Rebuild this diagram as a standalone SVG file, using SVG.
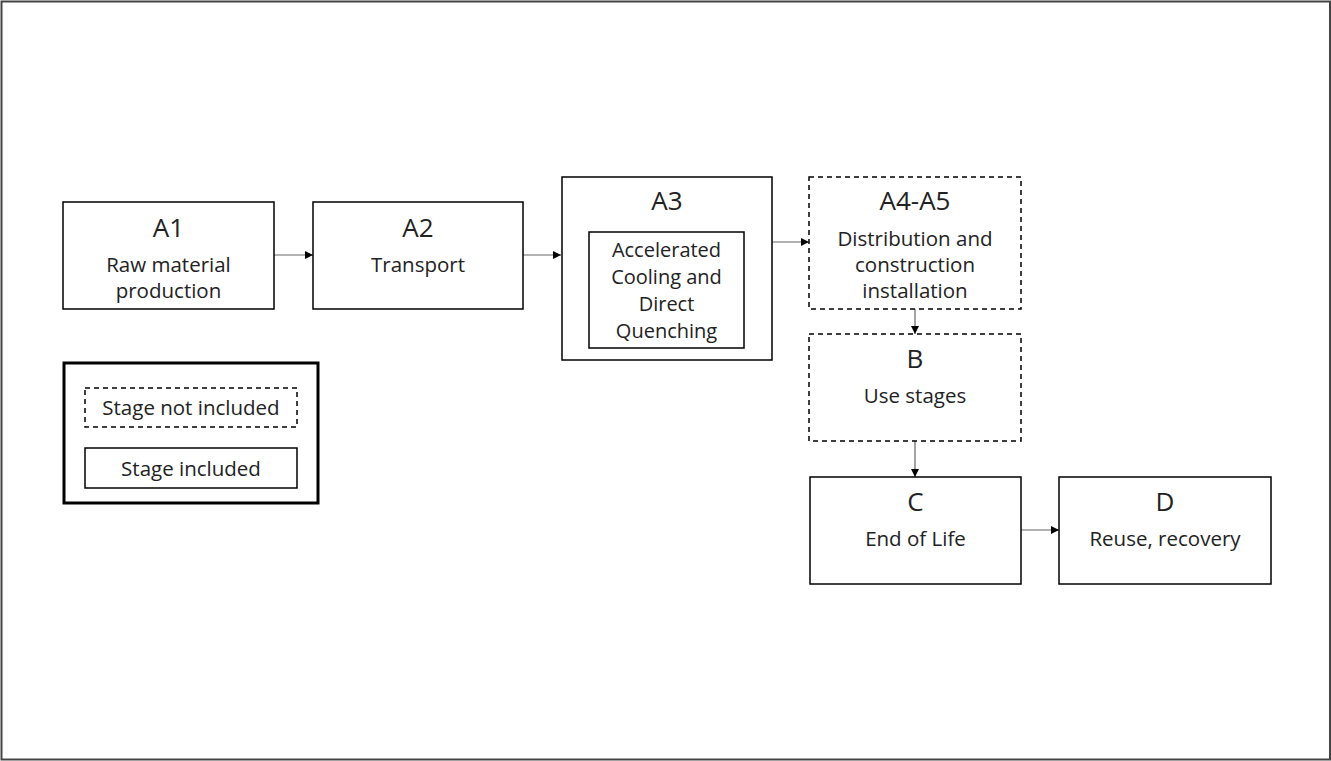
<svg xmlns="http://www.w3.org/2000/svg" width="1331" height="761" viewBox="0 0 1331 761">
<defs>
<style>
.box{fill:#fff;stroke:#000;stroke-width:1.5}
.dash{fill:#fff;stroke:#000;stroke-width:1.5;stroke-dasharray:5 4}
.t{font-family:"Open Sans","Noto Sans",sans-serif;fill:#222;text-anchor:middle}
.h{font-size:26px}
.b{font-size:20.5px}
.s{font-size:20px}
.c{stroke:#666;stroke-width:1.2;fill:none;marker-end:url(#ah)}
</style>
<marker id="ah" viewBox="0 0 10 10" refX="10" refY="5" markerWidth="8" markerHeight="8" markerUnits="userSpaceOnUse" orient="auto">
<path d="M0,0L10,5L0,10z" fill="#000"/>
</marker>
</defs>
<rect x="0" y="0" width="1331" height="761" fill="#fff"/>
<rect x="1.5" y="1.5" width="1328.5" height="758" fill="none" stroke="#444" stroke-width="2"/>
<g id="connectors">
<path class="c" d="M274,255H313"/>
<path class="c" d="M523,255H561"/>
<path class="c" d="M772,242H809"/>
<path class="c" d="M915,309V334"/>
<path class="c" d="M915,441V477"/>
<path class="c" d="M1021,530H1059"/>
</g>
<g id="A1">
<rect class="box" x="63" y="202" width="211" height="107"/>
<text class="t h" x="168.5" y="237">A1</text>
<text class="t b" x="168.5" y="272">Raw material</text>
<text class="t b" x="168.5" y="298">production</text>
</g>
<g id="A2">
<rect class="box" x="313" y="202" width="210" height="107"/>
<text class="t h" x="418" y="237">A2</text>
<text class="t b" x="418" y="272">Transport</text>
</g>
<g id="A3">
<rect class="box" x="562" y="177" width="210" height="183"/>
<text class="t h" x="667" y="210">A3</text>
<rect class="box" x="589" y="232" width="155" height="116"/>
<text class="t s" x="666.5" y="257">Accelerated</text>
<text class="t s" x="666.5" y="284">Cooling and</text>
<text class="t s" x="666.5" y="311">Direct</text>
<text class="t s" x="666.5" y="338">Quenching</text>
</g>
<g id="A4-A5">
<rect class="dash" x="809" y="177" width="212" height="132"/>
<text class="t h" x="915" y="210">A4-A5</text>
<text class="t b" x="915" y="246">Distribution and</text>
<text class="t b" x="915" y="272">construction</text>
<text class="t b" x="915" y="298">installation</text>
</g>
<g id="B">
<rect class="dash" x="809" y="334" width="212" height="107"/>
<text class="t h" x="915" y="368">B</text>
<text class="t b" x="915" y="403">Use stages</text>
</g>
<g id="C">
<rect class="box" x="810" y="477" width="211" height="107"/>
<text class="t h" x="915.5" y="511">C</text>
<text class="t b" x="915.5" y="546">End of Life</text>
</g>
<g id="D">
<rect class="box" x="1059" y="477" width="212" height="107"/>
<text class="t h" x="1165" y="511">D</text>
<text class="t b" x="1165" y="546">Reuse, recovery</text>
</g>
<g id="legend">
<rect x="64" y="363" width="254" height="140" fill="#fff" stroke="#000" stroke-width="3"/>
<rect class="dash" x="85" y="388" width="212" height="39"/>
<text class="t b" x="191" y="415">Stage not included</text>
<rect class="box" x="85" y="448" width="212" height="40"/>
<text class="t b" x="191" y="476">Stage included</text>
</g>
</svg>
